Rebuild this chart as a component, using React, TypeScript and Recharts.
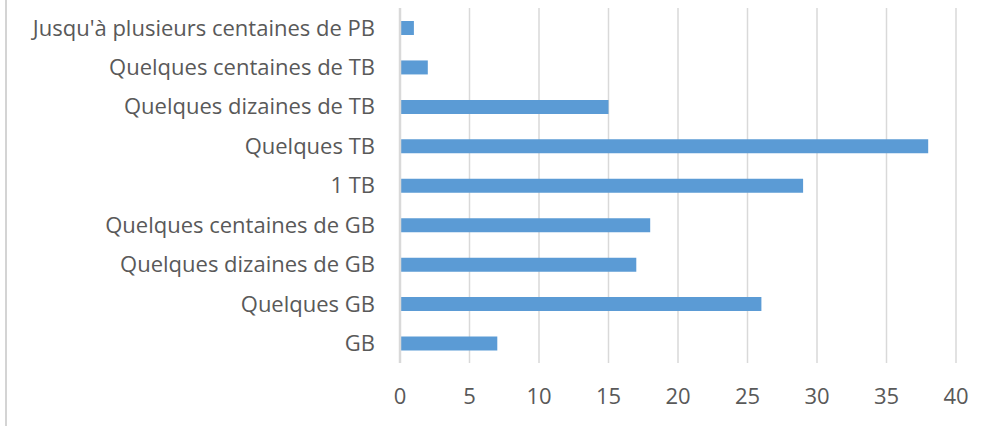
import React from "react";
import { BarChart, Bar, XAxis, YAxis, CartesianGrid } from "recharts";

const categories = [
  "Jusqu'à plusieurs centaines de PB",
  "Quelques centaines de TB",
  "Quelques dizaines de TB",
  "Quelques TB",
  "1 TB",
  "Quelques centaines de GB",
  "Quelques dizaines de GB",
  "Quelques GB",
  "GB",
];
const values = [1, 2, 15, 38, 29, 18, 17, 26, 7];
const xTicks = [0, 5, 10, 15, 20, 25, 30, 35, 40];

const data = categories.map((name, i) => ({ name, value: values[i] }));

const FONT = "'Open Sans', sans-serif";

export default function App() {
  return (
    <div style={{ position: "absolute", left: 0, top: 0, width: 993, height: 426, background: "#fff" }}>
      <div style={{ position: "absolute", left: 5, top: 0, width: 2, height: 426, background: "#d4d4d4" }} />
      <div style={{ position: "absolute", left: 0, top: 0 }}>
        <BarChart
          width={993}
          height={426}
          data={data}
          layout="vertical"
          margin={{ top: 8, right: 37, bottom: 0, left: 0 }}
          style={{ fontFamily: FONT }}
        >
          <CartesianGrid horizontal={false} vertical={true} stroke="#d9d9d9" strokeWidth={1.5} />
          <XAxis
            type="number"
            domain={[0, 40]}
            ticks={xTicks}
            axisLine={false}
            tickLine={false}
            tickSize={0}
            tickMargin={25}
            height={63}
            tick={{ fill: "#595959", fontSize: 22, fontFamily: FONT }}
            interval={0}
          />
          <YAxis
            type="category"
            dataKey="name"
            width={400}
            axisLine={{ stroke: "#d9d9d9", strokeWidth: 2.5 }}
            tickLine={false}
            tickSize={0}
            tickMargin={25}
            interval={0}
            tick={{ fill: "#595959", fontSize: 22, fontFamily: FONT }}
          />
          <Bar dataKey="value" fill="#5B9BD5" barSize={14} isAnimationActive={false} />
        </BarChart>
      </div>
    </div>
  );
}
